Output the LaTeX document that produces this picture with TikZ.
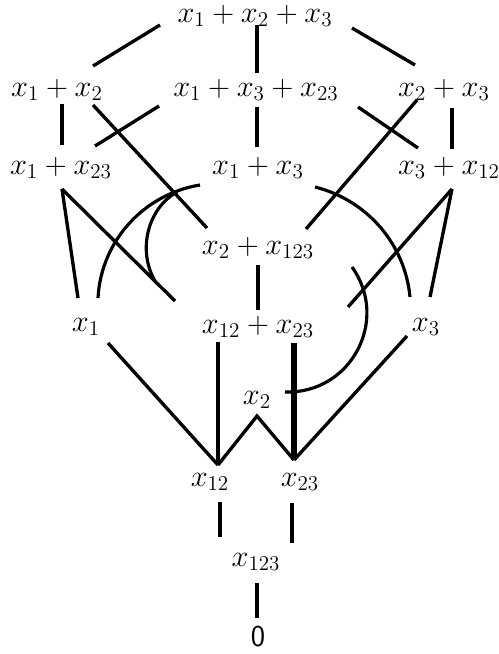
\documentclass[tikz,border=0pt]{standalone}
\usepackage{tikz}
\usetikzlibrary{calc}

\begin{document}
\begin{tikzpicture}[
    x=0.02cm, y=-0.02cm,
    font=\LARGE,
    elt/.style={inner sep=1pt},
    edge/.style={line width=1.9pt},
    tedge/.style={line width=2.5pt},
    arcedge/.style={line width=1.8pt},
]
\useasboundingbox (0,0) rectangle (499,654);

% --- Top and second row ---
\node[elt] (n123) at (255,16) {$x_1+x_2+x_3$};
\node[elt] (n12) at (57,90) {$x_1+x_2$};
\node[elt] (n13x) at (256,90) {$x_1+x_3+x_{23}$};
\node[elt] (n23) at (444,90) {$x_2+x_3$};

% --- Third row ---
\node[elt] (n1x23) at (61,168) {$x_1+x_{23}$};
\node[elt] (n13) at (258,168) {$x_1+x_3$};
\node[elt] (n3x12) at (449,168) {$x_3+x_{12}$};
\node[elt] (n2x123) at (258,248) {$x_2+x_{123}$};

% --- Lower rows ---
\node[elt] (n1) at (86,327) {$x_1$};
\node[elt] (n12x23) at (258,327) {$x_{12}+x_{23}$};
\node[elt] (n3) at (426,327) {$x_3$};
\node[elt] (n2) at (257,400) {$x_2$};
\node[elt] (m12) at (210,482) {$x_{12}$};
\node[elt] (m23) at (300,482) {$x_{23}$};
\node[elt] (m123) at (256,562) {$x_{123}$};
\node[elt] (zero) at (258,637) {\textsf{0}};

% --- Top edges ---
\draw[edge] ($(n123)+(-95,9)$) -- ($(n12)+(36,-24)$);
\draw[tedge] ($(n123)+(2,9)$) -- ($(n13x)+(1,-17)$);
\draw[edge] ($(n123)+(97,12)$) -- ($(n23)+(-29,-25)$);

% --- Second row down ---
\draw[tedge] ($(n12)+(5,14)$) -- ($(n1x23)+(1,-23)$);
\draw[edge] ($(n12)+(36,15)$) -- ($(n2x123)+(-51,-20)$);
\draw[edge] ($(n13x)+(-97,16)$) -- ($(n1x23)+(34,-22)$);
\draw[tedge] ($(n13x)+(1,17)$) -- ($(n13)+(-1,-21)$);
\draw[edge] ($(n13x)+(102,17)$) -- ($(n3x12)+(-31,-20)$);
\draw[edge] ($(n23)+(-27,10)$) -- ($(n2x123)+(48,-19)$);
\draw[tedge] ($(n23)+(8,18)$) -- ($(n3x12)+(3,-19)$);

% --- Third row down ---
\draw[edge] ($(n1x23)+(1,21)$) -- ($(n1)+(-8,-29)$);
\draw[edge] ($(n1x23)+(1,21)$) -- ($(n12x23)+(-83,-26)$);
\draw[edge] ($(n3x12)+(3,21)$) -- ($(n3)+(4,-30)$);
\draw[edge] ($(n3x12)+(3,21)$) -- ($(n12x23)+(90,-20)$);
\draw[tedge] ($(n2x123)+(0,17)$) -- ($(n12x23)+(0,-17)$);

% --- Arcs ---
\draw[arcedge] ($(n1)+(12,-29)$) .. controls +(3,-57) and +(-56,9) .. ($(n13)+(-58,17)$);
\draw[arcedge] ($(n13)+(-81,24)$) .. controls +(-29,16) and +(-18,-31) .. ($(n12x23)+(-103,-46)$);
\draw[arcedge] ($(n13)+(57,19)$) .. controls +(52,13) and +(-5,-53) .. ($(n3)+(-16,-30)$);
\draw[arcedge] ($(n2x123)+(94,19)$) .. controls +(38,53) and +(66,2) .. ($(n2)+(28,-8)$);

% --- Bottom part ---
\draw[edge] ($(n1)+(22,16)$) -- ($(m12)+(8,-17)$);
\draw[edge] ($(n3)+(-19,9)$) -- ($(m23)+(-6,-22)$);
\draw[edge] ($(n12x23)+(-40,15)$) -- ($(m12)+(8,-17)$);
\draw[line width=2.9pt] ($(n12x23)+(36,16)$) -- ($(m23)+(-6,-22)$);
\draw[edge] ($(m12)+(8,-17)$) -- ($(n2)+(0,16)$) -- ($(m23)+(-6,-22)$);
\draw[tedge] ($(m12)+(10,20)$) -- ($(m123)+(-36,-25)$);
\draw[edge] ($(m23)+(-8,21)$) -- ($(m123)+(36,-19)$);
\draw[tedge] ($(m123)+(1,21)$) -- ($(zero)+(-1,-19)$);

\end{tikzpicture}
\end{document}
